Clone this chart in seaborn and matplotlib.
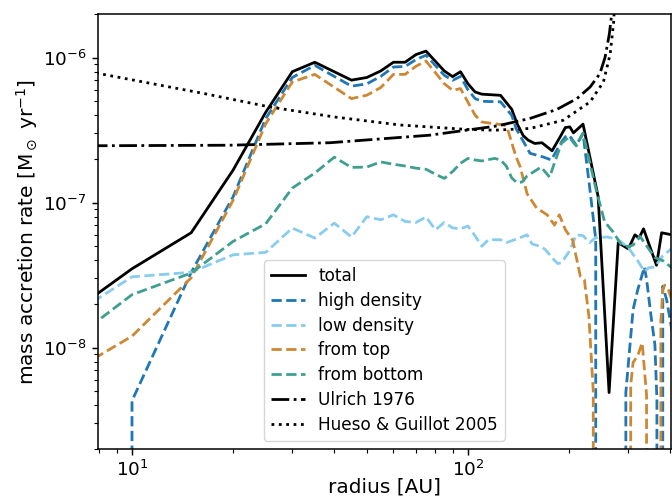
import numpy as np
import pandas as pd
import matplotlib
matplotlib.use("Agg")
import matplotlib.pyplot as plt
import seaborn as sns

# ---------------- data ----------------
R_total = [5, 10, 15, 20, 25, 30, 35, 45, 50, 55, 60, 65, 70, 75, 85, 90, 95, 100, 105,
           110, 125, 135, 140, 146, 151, 158, 166, 178, 188, 195, 201, 206, 220, 244,
           263, 280, 300, 314, 323, 333, 364, 377, 405]
M_total = [1.1e-8, 3.5e-8, 6.2e-8, 1.68e-7, 4.2e-7, 8.0e-7, 9.3e-7, 7.0e-7, 7.3e-7, 8.1e-7,
           9.3e-7, 9.3e-7, 1.05e-6, 1.11e-6, 8.1e-7, 7.4e-7, 8.0e-7, 6.6e-7, 5.8e-7,
           5.6e-7, 5.5e-7, 4.4e-7, 3.5e-7, 2.9e-7, 2.7e-7, 2.56e-7, 2.59e-7, 2.28e-7, 2.84e-7,
           3.3e-7, 3.33e-7, 3.03e-7, 3.48e-7, 1.1e-7, 4.9e-9, 5.3e-8, 4.8e-8, 6.0e-8,
           5.7e-8, 6.6e-8, 3.7e-8, 6.2e-8, 6.0e-8]

R_high = [5, 10, 15, 20, 25, 30, 35, 45, 50, 55, 60, 65, 70, 75, 85, 90, 95, 100, 105, 110,
          125, 135, 139, 153, 167, 177, 190, 195, 200, 210, 220, 230, 240, 245,
          290, 295, 310, 320, 335, 340, 350, 360, 365, 370, 375, 380, 390, 405]
M_high = [0, 4.3e-9, 3.3e-8, 1.1e-7, 3.8e-7, 7.3e-7, 8.85e-7, 6.36e-7, 6.6e-7, 7.43e-7,
          8.62e-7, 8.7e-7, 9.7e-7, 1.04e-6, 7.56e-7, 6.98e-7, 7.43e-7, 6.0e-7, 5.22e-7, 5.0e-7,
          4.96e-7, 4.0e-7, 3.25e-7, 2.19e-7, 2.07e-7, 1.97e-7, 2.63e-7, 2.85e-7, 2.92e-7,
          2.49e-7, 3.0e-7, 1.3e-7, 5.6e-8, 0,
          0, 4.9e-9, 1.83e-8, 2.5e-8, 3.6e-8, 2.98e-8, 1.7e-8, 1.05e-8, 4.4e-9, 0,
          0, 2.65e-8, 2.15e-8, 1.3e-8]

R_low = [5, 10, 15, 20, 25, 30, 35, 40, 45, 50, 55, 60, 65, 70, 75, 80, 85, 90, 95, 100,
         105, 110, 115, 125, 130, 140, 150, 155, 165, 170, 180, 185, 190, 200, 210, 220,
         230, 240, 260, 280, 300, 320, 335, 345, 360, 380, 405]
M_low = [1.1e-8, 3.08e-8, 3.31e-8, 4.37e-8, 4.54e-8, 6.68e-8, 5.7e-8, 7.22e-8, 5.8e-8, 8.0e-8,
         7.62e-8, 8.24e-8, 7.42e-8, 7.3e-8, 7.97e-8, 6.5e-8, 7.3e-8, 6.7e-8, 6.6e-8, 6.9e-8,
         5.9e-8, 5.0e-8, 5.55e-8, 5.55e-8, 5.3e-8, 5.63e-8, 6.0e-8, 5.2e-8, 4.97e-8, 4.74e-8,
         4.05e-8, 3.8e-8, 3.86e-8, 4.6e-8, 6.0e-8, 5.92e-8, 5.3e-8, 5.73e-8, 5.8e-8, 5.55e-8,
         4.89e-8, 3.98e-8, 3.35e-8, 3.56e-8, 3.6e-8, 4.3e-8, 4.85e-8]

R_top = [5, 10, 15, 20, 25, 30, 35, 45, 50, 55, 60, 65, 70, 75, 85, 90, 95, 105, 110,
         128, 131, 139, 143, 150, 160, 172, 181, 187, 195, 205, 216, 222, 229, 236, 240,
         300, 305, 310, 320, 330, 340, 350, 370, 375, 380, 385, 395, 405]
M_top = [4.65e-9, 1.2e-8, 3.03e-8, 1.04e-7, 3.5e-7, 6.8e-7, 7.67e-7, 5.22e-7, 5.51e-7, 6.22e-7,
         7.67e-7, 7.67e-7, 8.72e-7, 9.48e-7, 6.62e-7, 5.95e-7, 6.12e-7, 4.01e-7, 3.6e-7,
         3.43e-7, 3.25e-7, 2.07e-7, 1.77e-7, 1.15e-7, 9.2e-8, 8.24e-8, 7.0e-8, 8.24e-8, 6.5e-8,
         5.5e-8, 3.1e-8, 2.95e-8, 1.65e-8, 5.0e-9, 0,
         0, 5.5e-9, 7.9e-9, 8.8e-9, 1.08e-8, 4.7e-9, 0, 0, 1.5e-8, 2.5e-8, 2.7e-8, 2.5e-8, 2.1e-8]

R_bottom = [5, 10, 15, 20, 25, 30, 35, 40, 45, 50, 55, 60, 65, 70, 75, 80, 85, 90, 95, 100,
            105, 110, 120, 125, 130, 135, 140, 145, 150, 160, 165, 175, 180, 190, 200, 210,
            220, 240, 255, 270, 285, 300, 310, 325, 340, 360, 380, 405]
M_bottom = [6.84e-9, 2.32e-8, 3.27e-8, 5.41e-8, 7.15e-8, 1.26e-7, 1.6e-7, 2.06e-7, 1.75e-7,
            1.76e-7, 1.91e-7, 1.84e-7, 1.79e-7, 1.73e-7, 1.70e-7, 1.57e-7, 1.47e-7, 1.64e-7,
            1.87e-7, 2.02e-7, 1.97e-7, 1.94e-7, 2.02e-7, 1.97e-7, 1.79e-7, 1.48e-7, 1.37e-7,
            1.39e-7, 1.53e-7, 1.68e-7, 1.76e-7, 1.5e-7, 1.82e-7, 2.58e-7, 2.83e-7, 2.46e-7,
            3.02e-7, 1.26e-7, 7.4e-8, 6.3e-8, 5.2e-8, 4.97e-8, 5.1e-8, 5.85e-8, 5.05e-8,
            4.18e-8, 3.98e-8, 3.55e-8]

R_ulrich = [5, 8, 19.5, 38.8, 77, 122, 153, 184, 211, 231, 247, 256, 263.5, 267.8, 270]
M_ulrich = [2.45e-7, 2.47e-7, 2.49e-7, 2.59e-7, 2.92e-7, 3.38e-7, 3.81e-7, 4.4e-7, 5.22e-7,
            6.28e-7, 7.76e-7, 1.01e-6, 1.46e-6, 2.0e-6, 3.0e-6]

R_hueso = [5, 8, 16.3, 25.7, 40, 63, 99, 120, 153, 192, 231, 253, 265, 271.6, 274]
M_hueso = [9.6e-7, 7.76e-7, 5.67e-7, 4.57e-7, 3.9e-7, 3.43e-7, 3.2e-7, 3.16e-7, 3.25e-7,
           3.7e-7, 4.96e-7, 6.8e-7, 1.06e-6, 1.8e-6, 3.0e-6]

labels = ["total", "high density", "low density", "from top", "from bottom",
          "Ulrich 1976", "Hueso & Guillot 2005"]
colors = ["black", "#1f77b4", "#88ccee", "#cc8833", "#3f9f8f", "black", "black"]
styles = ["-", "--", "--", "--", "--", "-.", ":"]

series = [(R_total, M_total), (R_high, M_high), (R_low, M_low), (R_top, M_top),
          (R_bottom, M_bottom), (R_ulrich, M_ulrich), (R_hueso, M_hueso)]

# ---------------- figure ----------------
fig = plt.figure(figsize=(6.72, 4.99), dpi=100)
ax = fig.add_axes([0.1458, 0.1002, 0.8527, 0.8717])
ax.set_xscale("log")
ax.set_yscale("log")

for (r, m), lab, col, ls in zip(series, labels, colors, styles):
    df = pd.DataFrame({"r": r, "m": m})
    sns.lineplot(data=df, x="r", y="m", ax=ax, color=col, linestyle=ls,
                 linewidth=2.0, label=lab, estimator=None, sort=False)

ax.set_xlim(7.92, 402)
ax.set_ylim(2.0e-9, 2.0e-6)

ax.set_xlabel("radius [AU]", fontsize=14.5, labelpad=-2)
ax.set_ylabel(r"mass accretion rate [M$_\odot$ yr$^{-1}$]", fontsize=14.5, labelpad=2)
ax.tick_params(which="major", labelsize=13.2, length=4.6, width=1.06)
ax.tick_params(which="minor", length=2.64, width=0.8)
for sp in ax.spines.values():
    sp.set_linewidth(1.1)

ax.legend(loc="lower center", fontsize=12.2, handlelength=2.0, labelspacing=0.4)

fig.savefig("out.png", dpi=100)
